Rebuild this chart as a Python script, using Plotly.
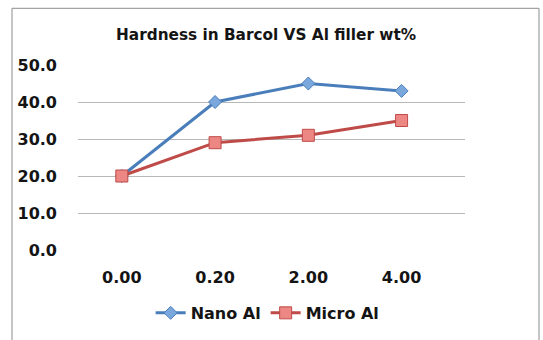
import plotly.graph_objects as go

categories = ["0.00", "0.20", "2.00", "4.00"]
nano_al = [20.0, 40.0, 45.0, 43.0]
micro_al = [20.0, 29.0, 31.0, 35.0]
y_ticks = [0, 10, 20, 30, 40, 50]
y_tick_labels = ["0.0", "10.0", "20.0", "30.0", "40.0", "50.0"]

FONT = "DejaVu Sans"
TXT = "#141414"

fig = go.Figure()
fig.add_trace(go.Scatter(
    x=list(range(len(categories))), y=nano_al, name="<b>Nano Al</b>", mode="lines+markers",
    line=dict(color="#4a7ebb", width=3),
    marker=dict(symbol="diamond", size=10, color="#7aa7dc", line=dict(color="#4a7ebb", width=1)),
))
fig.add_trace(go.Scatter(
    x=list(range(len(categories))), y=micro_al, name="<b>Micro Al</b>", mode="lines+markers",
    line=dict(color="#be4b48", width=3),
    marker=dict(symbol="square", size=12, color="#ec8784", line=dict(color="#be4b48", width=1)),
))

fig.update_layout(
    width=543, height=340,
    margin=dict(l=78, r=78, t=65, b=89),
    paper_bgcolor="white", plot_bgcolor="white",
    font=dict(family=FONT, size=16, color=TXT),
    title=dict(text="<b>Hardness in Barcol VS Al filler wt%</b>", x=0.49, xanchor="center",
               y=1 - 35 / 340, yanchor="middle", yref="container",
               font=dict(family=FONT, size=15.3, color=TXT)),
    xaxis=dict(range=[-0.47, 3.68], tickvals=list(range(len(categories))),
               ticktext=["<b>%s</b>" % c for c in categories],
               showgrid=False, zeroline=False, showline=False, ticks="",
               ticklabelstandoff=16, tickfont=dict(size=16)),
    yaxis=dict(range=[0, 50], tickvals=y_ticks,
               ticktext=["<b>%s</b>" % t for t in y_tick_labels],
               showgrid=True, gridcolor="#b8b8b8", gridwidth=1, zeroline=False,
               showline=False, ticks="", ticklabelstandoff=20, tickfont=dict(size=16)),
    showlegend=True,
    legend=dict(orientation="h", x=0.49, xanchor="center", y=-0.333, yanchor="middle",
                font=dict(size=16, color=TXT), bgcolor="rgba(0,0,0,0)"),
    shapes=[dict(type="rect", xref="paper", yref="paper",
                 x0=(12 - 78) / 387, x1=(539 - 78) / 387,
                 y0=-0.6, y1=(251 - 8) / 186,
                 line=dict(color="#8c8c8c", width=1), fillcolor="rgba(0,0,0,0)", layer="below")],
)

fig.write_html("out.html")
